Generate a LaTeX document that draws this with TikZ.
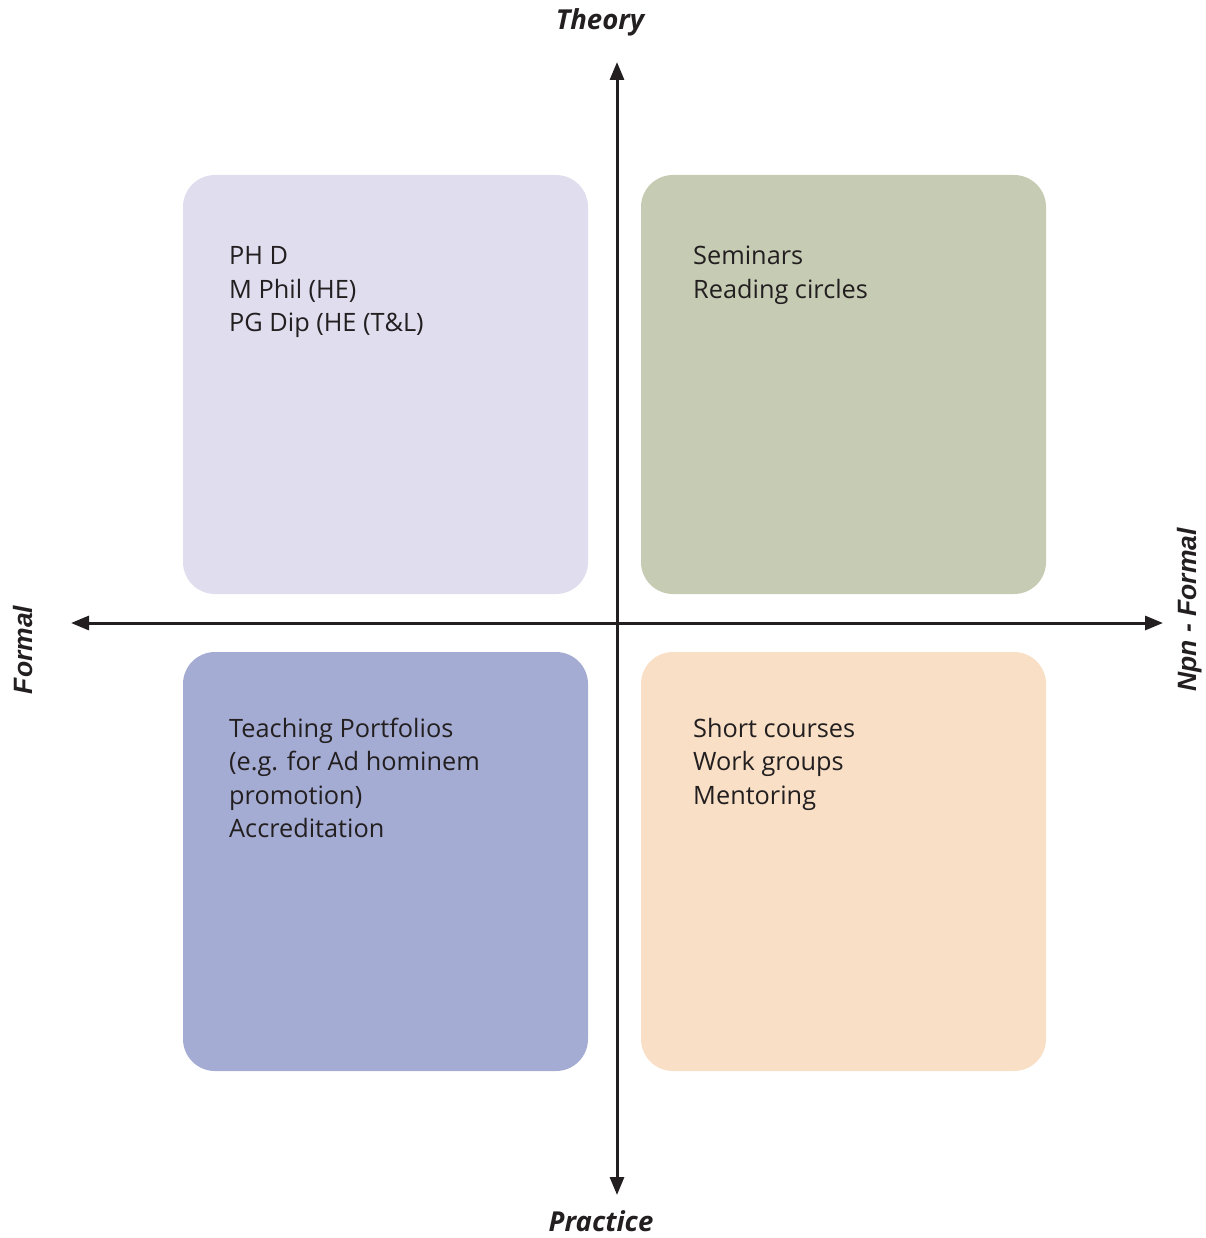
\documentclass[tikz,border=0pt]{standalone}
\usepackage{fontspec}
\setmainfont{Open Sans}
\newfontfamily\arialfont{Liberation Sans}
\usetikzlibrary{arrows.meta}
\definecolor{axiscol}{HTML}{231F20}
\definecolor{tlcol}{HTML}{DFDDEE}
\definecolor{trcol}{HTML}{C6CBB3}
\definecolor{blcol}{HTML}{A4ACD3}
\definecolor{brcol}{HTML}{F8DFC5}
\definecolor{txtcol}{HTML}{231F20}
\newcommand{\qlines}[1]{\begin{tabular}[t]{@{}l@{}}#1\end{tabular}}
\tikzset{
  quad/.style={draw=none, rounded corners=32pt, minimum width=405pt, minimum height=419pt, inner sep=0pt},
  quadtext/.style={anchor=base west, align=left, inner sep=0pt, text=txtcol, font=\fontsize{25.3}{33.5}\selectfont},
  axis/.style={draw=axiscol, line width=3pt, -{Triangle[length=18pt,width=14pt]}},
  toplabel/.style={inner sep=0pt, text=axiscol, font=\fontsize{27.5}{30}\selectfont\bfseries\itshape},
  sidelabel/.style={inner sep=0pt, text=axiscol, rotate=90, font=\arialfont\fontsize{26.5}{30}\selectfont\bfseries\itshape}
}
\begin{document}
\begin{tikzpicture}[x=1pt,y=-1pt]
\useasboundingbox (0,0) rectangle (1205,1238);
\node[quad, fill=tlcol] (tl) at (385.5,384.5) {};
\node[quad, fill=trcol] (tr) at (843.5,384.5) {};
\node[quad, fill=blcol] (bl) at (385.5,861.5) {};
\node[quad, fill=brcol] (br) at (843.5,861.5) {};
\node[quadtext] (tltext) at (229,265) {\qlines{PH D\\M Phil (HE)\\PG Dip (HE (T\&L)}};
\node[quadtext] (trtext) at (693,265) {\qlines{Seminars\\Reading circles}};
\node[quadtext] (bltext) at (229,737) {\qlines{Teaching Portfolios\\(e.g. for Ad hominem\\promotion)\\Accreditation}};
\node[quadtext] (brtext) at (693,737) {\qlines{Short courses\\Work groups\\Mentoring}};
\coordinate (c) at (617,623);
\coordinate (top) at (617,62);
\coordinate (bottom) at (617,1195);
\coordinate (left) at (71,623);
\coordinate (right) at (1163,623);
\draw[axis] (c) -- (top);
\draw[axis] (c) -- (bottom);
\draw[axis] (c) -- (left);
\draw[axis] (c) -- (right);
\node[toplabel, anchor=base] (theory) at (600,30) {Theory};
\node[toplabel, anchor=base] (practice) at (601,1231) {Practice};
\node[sidelabel, anchor=base] (formal) at (32,650) {Formal};
\node[sidelabel, anchor=base] (nonformal) at (1196,610) {Npn - Formal};
\end{tikzpicture}
\end{document}
